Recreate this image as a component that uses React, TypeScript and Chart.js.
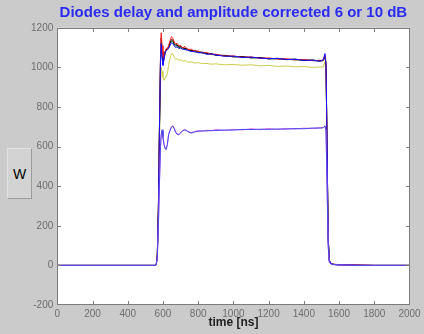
import React, { useEffect, useRef } from 'react';
import { Chart, registerables } from 'chart.js';

Chart.register(...registerables);

// time axis [ns]
const times = [0, 100, 200, 300, 400, 500, 555, 562, 568, 574, 580, 586, 590, 595, 600, 606, 612, 618, 625, 632, 640, 648, 656, 664, 672, 680, 690, 700, 712, 725, 740, 760, 780, 800, 825, 850, 875, 900, 950, 1000, 1050, 1100, 1150, 1200, 1250, 1300, 1350, 1400, 1450, 1490, 1510, 1520, 1526, 1532, 1538, 1545, 1555, 1570, 1600, 1700, 1800, 1900, 2000];

const redW = [0, 0, 0, 0, 0, 0, 0, 5, 60, 300, 700, 1050, 1175, 1110, 1050, 1040, 1075, 1095, 1090, 1110, 1135, 1155, 1148, 1128, 1118, 1122, 1108, 1112, 1098, 1106, 1090, 1092, 1082, 1083, 1073, 1075, 1066, 1067, 1057, 1058, 1051, 1053, 1046, 1048, 1042, 1044, 1038, 1040, 1034, 1036, 1036, 1062, 1020, 600, 150, 25, 10, 6, 4, 2, 0, 0, 0];
const blackW = [0, 0, 0, 0, 0, 0, 0, 4, 55, 290, 690, 1040, 1150, 1080, 1030, 1050, 1080, 1090, 1095, 1105, 1125, 1140, 1138, 1120, 1112, 1115, 1102, 1106, 1100, 1096, 1093, 1085, 1086, 1077, 1077, 1069, 1070, 1061, 1061, 1053, 1055, 1048, 1050, 1043, 1046, 1039, 1042, 1035, 1038, 1032, 1035, 1055, 1010, 590, 140, 22, 9, 5, 3, 1, 0, 0, 0];
const blueW = [0, 0, 0, 0, 0, 0, 0, 4, 50, 280, 680, 1030, 1120, 1050, 1010, 1040, 1070, 1085, 1090, 1095, 1110, 1125, 1120, 1108, 1100, 1104, 1095, 1098, 1092, 1090, 1087, 1080, 1080, 1074, 1074, 1066, 1068, 1063, 1056, 1057, 1050, 1052, 1047, 1044, 1045, 1040, 1041, 1036, 1036, 1031, 1038, 1070, 1015, 600, 145, 24, 9, 5, 3, 1, 0, 0, 0];
const greenW = [0, 0, 0, 0, 0, 0, 0, 4, 52, 285, 685, 1020, 1100, 1060, 1020, 1045, 1075, 1088, 1092, 1100, 1120, 1132, 1130, 1115, 1108, 1110, 1100, 1102, 1094, 1095, 1088, 1084, 1079, 1078, 1072, 1070, 1065, 1063, 1058, 1054, 1053, 1049, 1048, 1044, 1043, 1041, 1038, 1038, 1034, 1033, 1034, 1058, 1012, 595, 142, 23, 9, 5, 3, 1, 0, 0, 0];
const yellowW = [0, 0, 0, 0, 0, 0, 0, 3, 40, 250, 600, 900, 1000, 980, 950, 935, 948, 950, 970, 1010, 1045, 1068, 1070, 1050, 1040, 1045, 1035, 1040, 1032, 1035, 1026, 1028, 1022, 1024, 1019, 1020, 1016, 1018, 1013, 1015, 1011, 1013, 1008, 1010, 1005, 1007, 1003, 1004, 1000, 1002, 1002, 1030, 990, 580, 140, 22, 9, 5, 3, 1, 0, 0, 0];
const magentaLow = [0, 0, 0, 0, 0, 0, 0, 3, 38, 195, 410, 590, 655, 678, 645, 612, 594, 590, 612, 662, 684, 700, 706, 694, 676, 665, 662, 670, 682, 686, 678, 670, 676, 681, 677, 683, 679, 686, 681, 687, 684, 690, 685, 691, 686, 692, 689, 693, 691, 696, 696, 704, 678, 395, 98, 14, 6, 4, 2, 0, 0, 0, 0];
const blueLow = [0, 0, 0, 0, 0, 0, 0, 3, 40, 200, 420, 600, 660, 685, 650, 610, 590, 584, 610, 660, 680, 698, 702, 690, 672, 662, 660, 668, 680, 685, 676, 668, 674, 677, 680, 679, 682, 681, 684, 683, 687, 686, 688, 687, 689, 688, 691, 690, 694, 693, 695, 705, 680, 400, 100, 15, 6, 4, 2, 0, 0, 0, 0];

const xMin = 0, xMax = 2000, xStep = 200;
const yMin = -200, yMax = 1200, yStep = 200;

const titleText = 'Diodes delay and amplitude corrected 6 or 10 dB';
const xLabel = 'time [ns]';
const yLabel = 'W';

const FONT = '"Liberation Sans", Arial, Helvetica, sans-serif';

export default function App() {
  const ref = useRef<HTMLCanvasElement>(null);

  useEffect(() => {
    const canvas = ref.current;
    if (!canvas) return;

    const mk = (label: string, arr: number[], color: string) => ({
      label,
      data: times.map((t, i) => ({ x: t, y: arr[i] })),
      borderColor: color,
      backgroundColor: color,
      borderWidth: 1,
      pointRadius: 0,
      tension: 0,
      fill: false,
    });

    const boxPlugin = {
      id: 'matlabBox',
      beforeDraw(chart: any) {
        const { ctx, chartArea: a } = chart;
        ctx.save();
        ctx.fillStyle = '#cbcbcb';
        ctx.fillRect(0, 0, chart.width, chart.height);
        ctx.fillStyle = '#ffffff';
        ctx.fillRect(a.left, a.top, a.right - a.left, a.bottom - a.top);
        ctx.restore();
      },
      afterDraw(chart: any) {
        const { ctx, chartArea: a, scales } = chart;
        ctx.save();
        ctx.strokeStyle = '#7c7c7c';
        ctx.lineWidth = 1;
        const L = Math.round(a.left) + 0.5, R = Math.round(a.right) - 0.5;
        const T = Math.round(a.top) + 0.5, B = Math.round(a.bottom) - 0.5;
        ctx.strokeRect(L, T, R - L, B - T);
        const tl = 3.5;
        ctx.beginPath();
        scales.x.ticks.forEach((t: any) => {
          const px = Math.round(scales.x.getPixelForValue(t.value)) + 0.5;
          if (px <= L + 1 || px >= R - 1) return;
          ctx.moveTo(px, B); ctx.lineTo(px, B - tl);
          ctx.moveTo(px, T); ctx.lineTo(px, T + tl);
        });
        scales.y.ticks.forEach((t: any) => {
          const py = Math.round(scales.y.getPixelForValue(t.value)) + 0.5;
          if (py <= T + 1 || py >= B - 1) return;
          ctx.moveTo(L, py); ctx.lineTo(L + tl, py);
          ctx.moveTo(R, py); ctx.lineTo(R - tl, py);
        });
        ctx.stroke();
        ctx.restore();
      },
    };

    const chart = new Chart(canvas, {
      type: 'line',
      data: {
        datasets: [
          mk('blue low', blueLow, '#4848f0'),
          mk('magenta low', magentaLow, '#d860d8'),
          mk('blue', blueW, '#1010ff'),
          mk('red', redW, '#ff1a1a'),
          mk('black', blackW, '#000000'),
          mk('green', greenW, '#118811'),
          mk('yellow', yellowW, '#cdcd48'),
        ],
      },
      options: {
        animation: false,
        responsive: false,
        maintainAspectRatio: false,
        devicePixelRatio: 1,
        layout: { padding: { left: 0, right: 14.5, top: 0, bottom: 0 } },
        plugins: {
          legend: { display: false },
          tooltip: { enabled: false },
          title: {
            display: true,
            fullSize: false,
            text: titleText,
            color: '#2b2bf0',
            font: { family: FONT, size: 15, weight: 'bold', lineHeight: 1.2 },
            padding: { top: 4, bottom: 5.8 },
          },
        },
        scales: {
          x: {
            type: 'linear',
            min: xMin,
            max: xMax,
            grid: { display: false, drawTicks: false },
            border: { display: false },
            ticks: {
              stepSize: xStep,
              autoSkip: false,
              maxRotation: 0,
              color: '#6e6e6e',
              font: { family: FONT, size: 10 },
              padding: 3,
              callback: (v: any) => String(v),
            },
            title: {
              display: true,
              text: xLabel,
              color: '#222222',
              font: { family: FONT, size: 12, weight: 'bold', lineHeight: 1.2 },
              padding: { top: 0, bottom: 4.3 },
            },
            afterFit: (s: any) => { s.height = 29; },
          },
          y: {
            type: 'linear',
            min: yMin,
            max: yMax,
            grid: { display: false, drawTicks: false },
            border: { display: false },
            ticks: {
              stepSize: yStep,
              color: '#6e6e6e',
              font: { family: FONT, size: 10 },
              padding: 4,
              callback: (v: any) => String(v),
            },
            afterFit: (s: any) => { s.width = 57.3; },
          },
        },
      },
      plugins: [boxPlugin],
    } as any);

    return () => chart.destroy();
  }, []);

  return (
    <div style={{ position: 'fixed', left: 0, top: 0, width: 424, height: 334, background: '#cbcbcb' }}>
      <canvas ref={ref} width={424} height={334} style={{ display: 'block', width: 424, height: 334 }} />
      <div
        style={{
          position: 'absolute',
          left: 7,
          top: 148,
          width: 23,
          height: 49,
          background: '#d3d3d3',
          borderTop: '1px solid #e2e2e2',
          borderLeft: '1px solid #e2e2e2',
          borderRight: '1px solid #9a9a9a',
          borderBottom: '1px solid #9a9a9a',
          display: 'flex',
          alignItems: 'center',
          justifyContent: 'center',
          fontFamily: FONT,
          fontSize: 14,
          color: '#000',
        }}
      >
        {yLabel}
      </div>
    </div>
  );
}
